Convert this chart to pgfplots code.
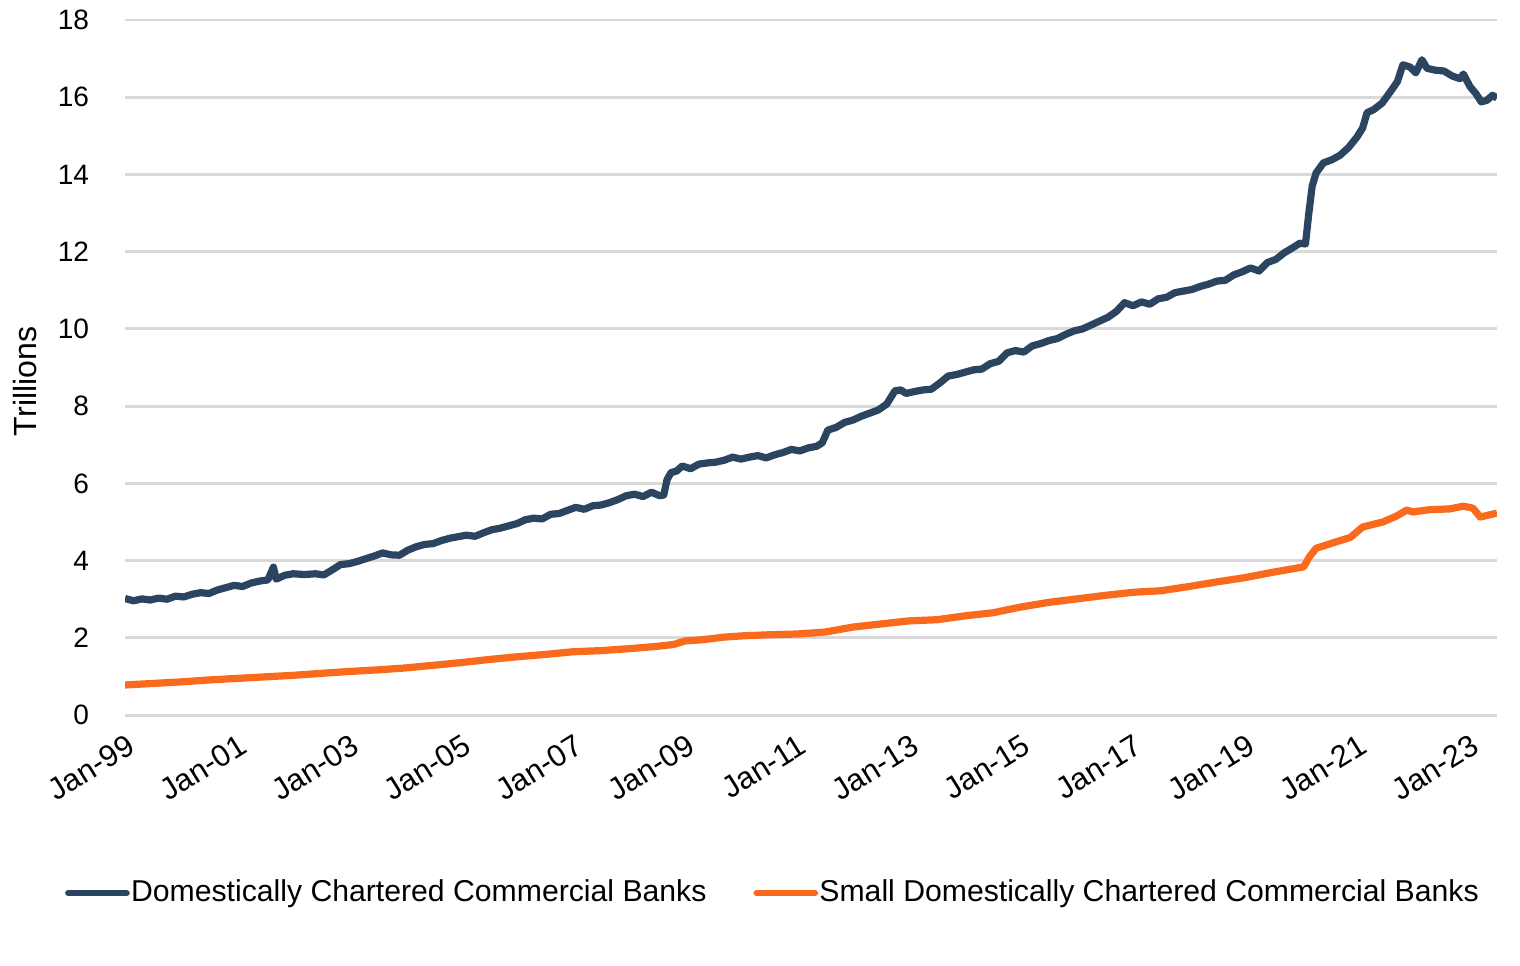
\documentclass[border=0pt]{standalone}
\usepackage{pgfplots}
\pgfplotsset{compat=1.18}
\usepackage{fontspec}
\setmainfont{Liberation Sans}

\definecolor{bankblue}{HTML}{2B4560}
\definecolor{bankorange}{HTML}{FA6A1C}
\definecolor{gridgray}{HTML}{D9D9D9}

\begin{document}
\begin{tikzpicture}
\begin{axis}[
    at={(0,0)}, anchor=south west,
    width=18.05cm, height=9.145cm,
    scale only axis,
    xmin=1999, xmax=2023.5,
    ymin=0, ymax=18,
    xtick={1999,2001,...,2023},
    xticklabels={Jan-99,Jan-01,Jan-03,Jan-05,Jan-07,Jan-09,Jan-11,Jan-13,Jan-15,Jan-17,Jan-19,Jan-21,Jan-23},
    ytick={0,2,...,18},
    axis line style={draw=none},
    major tick length=0pt,
    ymajorgrids=true,
    grid style={gridgray, line width=1.1pt},
    yticklabel style={font=\fontsize{10.5}{12}\selectfont, xshift=-0.35cm},
    /pgf/number format/assume math mode=true,
    xticklabel style={font=\fontsize{11.5}{13}\selectfont, rotate=32, anchor=north east, yshift=-0.08cm},
    ylabel={Trillions},
    every axis y label/.style={at={(-0.073,0.48)}, rotate=90, anchor=center,
        font=\fontsize{12}{14}\selectfont},
    legend style={at={(0.472,-0.256)}, anchor=center, draw=none,
        legend columns=2, font=\fontsize{11.3}{13}\selectfont,
        nodes={inner xsep=0.5pt},
        /tikz/every even column/.append style={column sep=0.6cm},
        inner sep=0pt},
    legend cell align=left,
    legend image code/.code={\draw[#1, line width=2.3pt, line cap=round] (0cm,0cm) -- (0.77cm,0cm);},
]

\addplot[color=bankblue, line width=2.7pt, line join=round]
    coordinates {
    (1999.00,3.02)(1999.15,2.96)(1999.30,3.01)(1999.45,2.98)(1999.60,3.03)
    (1999.75,3.00)(1999.90,3.08)(2000.05,3.06)(2000.20,3.13)(2000.35,3.17)
    (2000.50,3.15)(2000.65,3.24)(2000.80,3.30)(2000.95,3.36)(2001.10,3.33)
    (2001.25,3.42)(2001.40,3.47)(2001.55,3.50)(2001.65,3.83)(2001.70,3.52)
    (2001.85,3.62)(2002.00,3.66)(2002.20,3.64)(2002.40,3.66)(2002.55,3.63)
    (2002.70,3.76)(2002.85,3.90)(2003.00,3.92)(2003.15,3.98)(2003.30,4.05)
    (2003.45,4.12)(2003.60,4.20)(2003.75,4.15)(2003.90,4.14)(2004.05,4.27)
    (2004.20,4.36)(2004.35,4.42)(2004.50,4.44)(2004.65,4.52)(2004.80,4.58)
    (2004.95,4.62)(2005.10,4.66)(2005.25,4.63)(2005.40,4.72)(2005.55,4.80)
    (2005.70,4.84)(2005.85,4.90)(2006.00,4.96)(2006.15,5.06)(2006.30,5.10)
    (2006.45,5.08)(2006.60,5.20)(2006.75,5.22)(2006.90,5.30)(2007.05,5.38)
    (2007.20,5.33)(2007.35,5.42)(2007.50,5.44)(2007.65,5.50)(2007.80,5.58)
    (2007.95,5.68)(2008.10,5.72)(2008.25,5.66)(2008.40,5.77)(2008.55,5.68)
    (2008.62,5.70)(2008.68,6.10)(2008.75,6.28)(2008.85,6.32)(2008.95,6.45)
    (2009.10,6.38)(2009.25,6.50)(2009.40,6.53)(2009.55,6.55)(2009.70,6.60)
    (2009.85,6.68)(2010.00,6.63)(2010.15,6.68)(2010.30,6.72)(2010.45,6.66)
    (2010.60,6.74)(2010.75,6.80)(2010.90,6.88)(2011.05,6.84)(2011.20,6.92)
    (2011.35,6.96)(2011.45,7.05)(2011.55,7.38)(2011.70,7.45)(2011.85,7.58)
    (2012.00,7.64)(2012.15,7.74)(2012.30,7.82)(2012.45,7.90)(2012.60,8.05)
    (2012.75,8.40)(2012.85,8.42)(2012.95,8.33)(2013.10,8.38)(2013.25,8.42)
    (2013.40,8.44)(2013.55,8.60)(2013.70,8.78)(2013.85,8.82)(2014.00,8.88)
    (2014.15,8.94)(2014.30,8.96)(2014.45,9.10)(2014.60,9.16)(2014.75,9.38)
    (2014.90,9.44)(2015.05,9.40)(2015.20,9.56)(2015.35,9.62)(2015.50,9.70)
    (2015.65,9.75)(2015.80,9.86)(2015.95,9.95)(2016.10,10.00)(2016.25,10.10)
    (2016.40,10.20)(2016.55,10.30)(2016.70,10.45)(2016.85,10.68)(2017.00,10.60)
    (2017.15,10.70)(2017.30,10.64)(2017.45,10.78)(2017.60,10.82)(2017.75,10.94)
    (2017.90,10.98)(2018.05,11.02)(2018.20,11.10)(2018.35,11.16)(2018.50,11.24)
    (2018.65,11.26)(2018.80,11.40)(2018.95,11.48)(2019.10,11.58)(2019.25,11.50)
    (2019.40,11.72)(2019.55,11.80)(2019.70,11.97)(2019.85,12.10)(2019.98,12.22)
    (2020.08,12.20)(2020.14,13.00)(2020.20,13.70)(2020.27,14.04)(2020.40,14.30)
    (2020.55,14.38)(2020.70,14.50)(2020.85,14.70)(2021.00,14.97)(2021.10,15.20)
    (2021.18,15.60)(2021.30,15.68)(2021.45,15.85)(2021.60,16.15)(2021.72,16.40)
    (2021.82,16.84)(2021.95,16.78)(2022.05,16.63)(2022.16,16.97)(2022.25,16.75)
    (2022.40,16.70)(2022.55,16.68)(2022.70,16.55)(2022.84,16.48)(2022.90,16.60)
    (2023.02,16.27)(2023.12,16.10)(2023.22,15.88)(2023.32,15.92)(2023.42,16.05)
    (2023.50,15.98)
    };
\addlegendentry{Domestically Chartered Commercial Banks}

\addplot[color=bankorange, line width=2.7pt, line join=round]
    coordinates {
    (1999.00,0.78)(1999.50,0.82)(2000.00,0.86)(2000.50,0.91)(2001.00,0.95)
    (2001.50,0.99)(2002.00,1.03)(2002.50,1.08)(2003.00,1.13)(2003.50,1.17)
    (2004.00,1.22)(2004.50,1.29)(2005.00,1.36)(2005.50,1.44)(2006.00,1.51)
    (2006.50,1.57)(2007.00,1.64)(2007.50,1.67)(2008.00,1.72)(2008.50,1.78)
    (2008.80,1.83)(2009.00,1.92)(2009.30,1.95)(2009.70,2.02)(2010.00,2.05)
    (2010.50,2.08)(2011.00,2.10)(2011.50,2.15)(2012.00,2.28)(2012.50,2.36)
    (2013.00,2.44)(2013.50,2.47)(2014.00,2.57)(2014.50,2.65)(2015.00,2.80)
    (2015.50,2.92)(2016.00,3.01)(2016.50,3.10)(2017.00,3.18)(2017.50,3.22)
    (2018.00,3.33)(2018.50,3.45)(2019.00,3.56)(2019.50,3.70)(2019.90,3.80)
    (2020.05,3.84)(2020.15,4.10)(2020.27,4.32)(2020.57,4.46)(2020.88,4.60)
    (2021.10,4.87)(2021.46,5.00)(2021.70,5.15)(2021.89,5.31)(2022.00,5.26)
    (2022.30,5.32)(2022.66,5.34)(2022.90,5.41)(2023.07,5.36)(2023.20,5.13)
    (2023.35,5.18)(2023.50,5.23)
    };
\addlegendentry{Small Domestically Chartered Commercial Banks}

\end{axis}
\pgfresetboundingbox
\useasboundingbox (-1.645cm,-3.289cm) rectangle (18.353cm,9.408cm);
\end{tikzpicture}
\end{document}
